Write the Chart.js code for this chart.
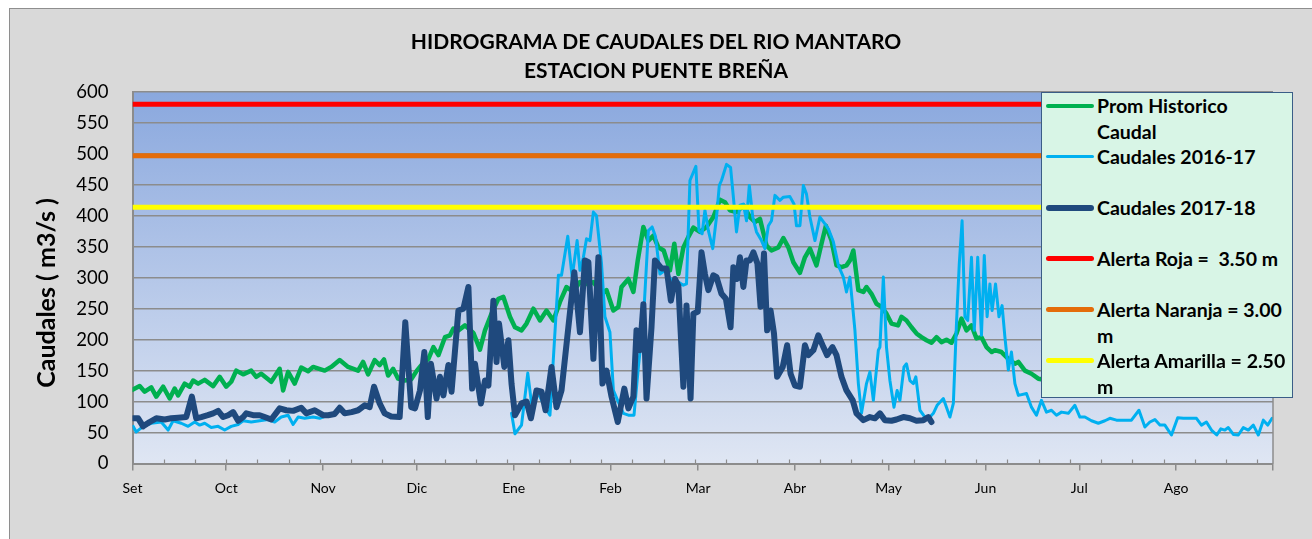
<!DOCTYPE html>
<html>
<head>
<meta charset="utf-8">
<script src="https://cdn.jsdelivr.net/npm/chart.js@4.4.1/dist/chart.umd.min.js"></script>
<style>
  html,body{margin:0;padding:0;background:#ffffff;width:1312px;height:539px;overflow:hidden;}
  #frame{position:absolute;left:9px;top:8px;width:1320px;height:545px;background:#d9d9d9;border:1px solid #8e8e8e;box-sizing:border-box;}
  #c{position:absolute;left:0;top:0;}
  #legend{position:absolute;left:1041px;top:92px;width:252px;height:306px;background:#d8f5e6;border:1.5px solid #3a5d87;box-sizing:border-box;font-family:Lato,sans-serif;font-weight:bold;font-size:19.5px;color:#000;}
  .entry{position:relative;height:51px;}
  .entry .smp{position:absolute;left:4px;width:48px;border-radius:3px;}
  .entry .txt{position:absolute;left:55px;top:0;line-height:25.5px;white-space:pre;}
</style>
</head>
<body>
<div id="frame"></div>
<canvas id="c" width="1312" height="539"></canvas>
<div id="legend"></div>
<script>
// ---- Axis / labels ----
const titleLines = ['HIDROGRAMA DE CAUDALES DEL RIO MANTARO', 'ESTACION PUENTE BREÑA'];
const yAxisTitle = 'Caudales ( m3/s )\u00a0\u00a0\u00a0\u00a0\u00a0';
const monthLabels = ['Set','Oct','Nov','Dic','Ene','Feb','Mar','Abr','May','Jun','Jul','Ago',''];
const monthStartDays = [0,30,61,91,122,153,181,212,242,273,303,334,365];

// ---- Prom Historico Caudal (day of hydrological year, m3/s) ----
const histDays = [0,2.3,3.9,6,7.6,9.8,11.9,13.5,14.6,16.7,18.3,19.4,21,23.1,25.8,27.9,30,31.6,33.2,35.4,38,39.6,41.2,44.4,47.1,48.2,49.8,51.9,54,56.2,57.8,61.5,63.6,66.3,69,72.2,73.8,75.4,77.5,79.1,80.5,81.8,83.4,85,87.1,89.2,91,92.5,94.7,96.3,97.9,100,101.6,102.7,104.3,106.4,109.1,111.2,112.8,114.9,117.1,118.7,120.8,122.4,124.5,126.1,128.3,130.4,132.5,134.7,136.8,138.9,141,143.2,145.3,147.5,150.1,151.7,153.9,155.5,156.5,158.7,160.3,161.7,163.5,165.1,166.7,168.3,170,172,173.4,174.7,176.3,177.9,179.5,181.6,183.7,185.9,188,189.6,191.2,193.3,195.5,197.6,199.2,200.8,202.9,204.5,206.7,208.3,209.9,211.5,213.6,215.2,216.8,218.9,220.5,221.9,223.7,225.3,226.9,228.5,229.6,230.7,232.3,233.9,234.9,236.5,238.1,239.7,241.3,242.9,245,246.1,247.7,249.3,250.9,252.5,254.1,255.7,257.3,258.9,260.5,262.1,263.7,265.3,266.9,268.5,270.1,271.7,273.3,275,276,278.1,280.3,282.4,283.5,285.6,287.7,289.9,300,315,330,345,365];
const histFlow = [119,125,116,123,108,124,105,121,110,129,124,134,129,135,125,140,124,132,150,144,150,140,145,132,153,118,148,129,155,149,156,150,156,167,156,150,164,144,167,159,168,142,153,137,134,136,150,159,169,188,175,204,207,218,215,223,211,184,215,242,266,269,237,220,215,226,250,231,247,231,261,285,277,293,290,293,274,280,247,253,285,298,277,328,382,360,368,349,344,312,355,306,349,366,381,374,382,398,426,422,409,406,417,398,390,395,352,344,349,364,349,325,308,333,347,320,355,384,360,320,317,320,328,344,280,277,285,274,258,253,242,226,223,237,231,220,210,204,199,195,204,196,200,195,210,234,215,223,202,204,188,180,183,180,169,161,164,150,145,137,128,125,122,120,119];

// ---- Caudales 2016-17 ----
const flow1617Days = [0.2,1.2,3.4,6,9.2,11.4,13,15.6,17.8,19.9,21.5,23.1,25.2,27.4,29.5,31.6,33.8,35.4,38,40.7,43.4,45.5,47.6,49.8,51.4,53,55.1,57.8,59.9,62,62.5,121.3,122.4,124.5,126.5,127.7,129.9,132,133.6,136.3,137.3,139.3,140.7,142.3,143.2,144.3,145.3,146.4,147.5,148.5,150.1,151.2,152.8,153.9,155.5,157.1,158.7,160.5,161.9,163.5,165.1,166.3,167.4,168.8,170.4,172.5,174.7,176.3,177.3,178.4,180.3,181.3,182.3,183.2,184.3,185.7,186.9,187.8,188.5,190.1,191.4,192.3,193.3,194.4,195.5,196.5,197.4,198.5,199.7,201.3,202.4,203.5,204.5,205.6,207.2,208.3,210.4,211.7,212.5,213.6,214.7,215.7,216.8,218.4,220,221.6,222.7,224.3,225.9,227.5,228.5,229.6,231.2,232.3,233.3,234.9,236,237.1,238.7,239.2,240.3,241.3,242.4,243.7,244.7,245.6,246.9,247.7,248.8,249.9,250.7,252,253.6,255.2,256.3,257.5,259.5,261.6,262.7,263.7,264.6,265.5,266.4,267.3,268.5,269.4,270.5,271.7,272.6,273.5,274.4,275.1,276.2,277.3,278.3,279.2,280.3,281.3,282.4,283.5,286.1,287.7,289.3,290.9,292.5,294.1,295.7,297.3,299.5,301.6,303.2,304.8,306.9,309.1,311.2,312.8,314.9,317.6,319.7,322.1,324,325.6,327.2,328.8,330.4,332.5,334.5,336.3,338.4,340.5,342.1,343.7,345.3,347,348.3,349.6,350.7,352.3,353.9,355.5,357.1,358.7,360.3,361.9,363.3,364.7];
const flow1617 = [60,51,60,65,67,54,69,65,60,67,62,65,58,60,54,60,63,69,67,69,71,67,75,78,63,75,73,75,73,77,null,81,48,62,146,97,113,91,78,304,304,367,301,360,312,333,363,360,406,400,323,237,212,118,99,81,78,78,156,231,376,382,366,306,312,296,293,288,290,457,480,376,371,409,376,347,398,449,457,483,478,430,374,417,419,392,449,398,374,360,347,384,392,433,425,430,431,419,384,384,449,435,398,360,398,387,379,358,320,301,277,301,215,129,81,129,148,102,183,188,301,188,134,91,118,102,156,161,134,129,140,86,75,75,81,94,105,75,97,226,323,392,237,231,333,215,333,207,336,237,290,247,290,237,255,204,151,180,129,110,113,91,78,102,83,86,78,83,81,94,75,75,69,65,69,73,70,70,70,86,59,67,71,62,62,46,74,73,73,73,62,67,54,46,56,54,58,47,46,58,54,62,46,70,62,73];

// ---- Caudales 2017-18 ----
const flow1718Days = [0.2,1.8,3.4,5.5,7.6,10.3,12.4,14.6,17.2,19,20.4,22,24.1,25.8,27.4,29,30.6,32.2,33.8,35.4,36.4,38.6,40.7,42.3,44.4,47.1,49.2,51.4,54,55.6,58.3,61,62.6,64.7,66.3,67.9,70.1,72.2,74.3,75.9,77.3,79.1,80.7,82.8,85.5,87.3,89.2,90.4,92,93.4,94.5,95.5,97.3,98.4,99.5,101.1,102.1,104.3,105.9,107.5,108.7,109.6,111.5,112.8,113.9,115.5,116.5,117.3,119,120.3,121.3,122.4,124.5,126.1,127.5,129.3,130.9,132.2,134.1,135.7,137.3,141.4,143.2,144.8,145.9,147.5,149.1,150.4,151.7,153.3,155.3,157.4,158.7,160.3,161.3,162.4,163.5,164.5,166.1,167.2,169.3,170.9,172.3,173.6,174.7,176.3,177.3,178.6,179.5,180.9,182.1,183.2,184.3,185.9,186.9,188.5,189.9,191.4,192.3,193.5,194.4,195.5,196.5,197.6,198.7,200,201,202.1,203.1,204.2,205.3,206.3,208.1,209.5,210.6,212,213.6,215.2,216.3,217.9,219.5,221.1,222.3,224,225.3,226.9,228.5,230.5,231.7,233.9,236,237.6,239.2,240.8,242.9,244.5,246.7,248.8,250.9,253.1,254.7,255.7];
const flow1718 = [73,73,60,67,73,71,73,74,75,108,73,75,78,81,85,75,78,83,69,75,81,78,78,75,71,89,86,85,90,81,86,78,78,80,90,81,83,86,94,91,124,97,81,76,75,228,91,89,118,180,75,161,105,140,110,159,116,247,250,285,121,161,97,134,126,263,164,226,156,199,129,78,97,100,73,118,116,86,156,91,118,309,212,328,325,169,333,129,150,108,67,121,89,108,215,183,257,105,220,328,315,315,263,298,287,124,255,105,242,245,341,306,280,304,301,274,266,220,317,298,333,285,328,328,341,323,253,339,215,247,210,140,156,191,145,126,124,191,175,183,207,188,175,188,175,140,118,102,81,70,75,73,81,70,69,71,75,73,69,70,75,67];

// ---- Alert levels ----
const alertLevels = [580, 497, 414];
const seriesLines = [['Prom Historico','Caudal'], ['Caudales 2016-17'], ['Caudales 2017-18'], ['Alerta Roja =  3.50 m'], ['Alerta Naranja = 3.00','m'], ['Alerta Amarilla = 2.50','m']];

const toPts = (days, vals) => days.map((d, i) => ({x: d, y: vals[i]}));
const flat = (lvl) => [{x: monthStartDays[0], y: lvl}, {x: monthStartDays[monthStartDays.length - 1], y: lvl}];

const lineBase = {pointRadius: 0, tension: 0, borderJoinStyle: 'round', borderCapStyle: 'round', fill: false, spanGaps: false};

const datasets = [
  Object.assign({label: seriesLines[0].join(' '), data: toPts(histDays, histFlow), borderColor: '#00b050', borderWidth: 4.5, order: 5}, lineBase),
  Object.assign({label: seriesLines[1].join(' '), data: toPts(flow1617Days, flow1617), borderColor: '#00b0f0', borderWidth: 3, order: 4}, lineBase),
  Object.assign({label: seriesLines[2].join(' '), data: toPts(flow1718Days, flow1718), borderColor: '#1f497d', borderWidth: 6, order: 3}, lineBase),
  Object.assign({label: seriesLines[3].join(' '), data: flat(alertLevels[0]), borderColor: '#ff0000', borderWidth: 5, order: 0}, lineBase, {borderCapStyle: 'butt'}),
  Object.assign({label: seriesLines[4].join(' '), data: flat(alertLevels[1]), borderColor: '#e46c0a', borderWidth: 5, order: 1}, lineBase, {borderCapStyle: 'butt'}),
  Object.assign({label: seriesLines[5].join(' '), data: flat(alertLevels[2]), borderColor: '#ffff00', borderWidth: 5, order: 2}, lineBase, {borderCapStyle: 'butt'})
];

const plotBg = {
  id: 'plotBg',
  beforeDraw(chart) {
    const {ctx, chartArea: a} = chart;
    const g = ctx.createLinearGradient(0, a.top, 0, a.bottom);
    g.addColorStop(0, '#8aa8de');
    g.addColorStop(1, '#dfe6f3');
    ctx.save();
    ctx.fillStyle = g;
    ctx.fillRect(a.left, a.top, a.right - a.left, a.bottom - a.top);
    ctx.restore();
  },
  afterDraw(chart) {
    const {ctx, chartArea: a} = chart;
    const xs = chart.scales.x;
    ctx.save();
    ctx.strokeStyle = '#8c8c8c';
    ctx.lineWidth = 1.2;
    for (let d = 10; d < xs.max; d += 10) {
      const px = Math.round(xs.getPixelForValue(d)) + 0.5;
      ctx.beginPath();
      ctx.moveTo(px, a.bottom - 4);
      ctx.lineTo(px, a.bottom);
      ctx.stroke();
    }
    ctx.lineWidth = 1.5;
    ctx.beginPath();
    ctx.moveTo(a.right, a.top);
    ctx.lineTo(a.right, a.bottom);
    ctx.stroke();
    ctx.restore();
  }
};

function build() {
  const chart = new Chart(document.getElementById('c'), {
    type: 'line',
    data: {datasets},
    plugins: [plotBg],
    options: {
      responsive: false,
      animation: false,
      devicePixelRatio: 1,
      layout: {padding: {left: 0, right: 0, top: 0, bottom: 41.7}},
      plugins: {
        legend: {display: false},
        tooltip: {enabled: false},
        title: {
          display: true, text: titleLines, color: '#000',
          font: {family: 'Lato', size: 21, weight: 'bold', lineHeight: 1.38},
          padding: {top: 28, bottom: 6}
        }
      },
      scales: {
        x: {
          type: 'linear', min: monthStartDays[0], max: monthStartDays[monthStartDays.length - 1],
          afterBuildTicks: (s) => { s.ticks = monthStartDays.map(v => ({value: v})); },
          afterFit: (s) => { s.height = 33.8; },
          ticks: {autoSkip: false, maxRotation: 0, padding: 10, color: '#000',
                  font: {family: 'Lato', size: 14},
                  callback: (v, i) => monthLabels[i]},
          grid: {drawOnChartArea: false, drawTicks: true, tickLength: 7, color: '#8c8c8c', lineWidth: 1.5},
          border: {display: true, color: '#8c8c8c', width: 2}
        },
        y: {
          min: 0, max: 600,
          afterFit: (s) => { s.width = 132.5; },
          ticks: {stepSize: 50, padding: 24, color: '#000', font: {family: 'Lato', size: 18.5}},
          grid: {color: '#8c8c8c', lineWidth: 1.5, drawTicks: false},
          border: {display: true, color: '#8c8c8c', width: 2},
          title: {display: true, text: yAxisTitle, color: '#000',
                  font: {family: 'Lato', size: 25, weight: 'bold'}, padding: {top: 32, bottom: 0}}
        },
        yr: {
          position: 'right', display: true, min: 0, max: 600,
          afterFit: (s) => { s.width = 39; },
          ticks: {display: false},
          grid: {display: false, drawTicks: false},
          border: {display: false}
        }
      }
    }
  });
  // HTML legend generated from the chart datasets
  const leg = document.getElementById('legend');
  chart.data.datasets.forEach((ds, i) => {
    const e = document.createElement('div');
    e.className = 'entry';
    const s = document.createElement('span');
    s.className = 'smp';
    s.style.background = ds.borderColor;
    s.style.height = ds.borderWidth + 'px';
    s.style.top = (12.75 - ds.borderWidth / 2) + 'px';
    const t = document.createElement('div');
    t.className = 'txt';
    seriesLines[i].forEach((ln, k) => {
      if (k) t.appendChild(document.createElement('br'));
      t.appendChild(document.createTextNode(ln));
    });
    e.appendChild(s); e.appendChild(t);
    leg.appendChild(e);
  });
}

Promise.all([
  document.fonts.load('bold 21px Lato'),
  document.fonts.load('18px Lato')
]).then(build, build);
</script>
</body>
</html>
